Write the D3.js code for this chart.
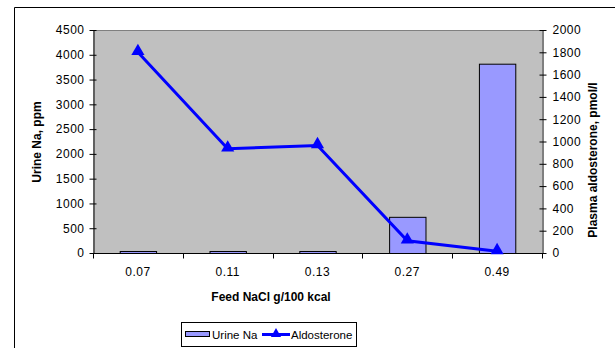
<!DOCTYPE html>
<html>
<head>
<meta charset="utf-8">
<script src="https://cdn.jsdelivr.net/npm/d3@7"></script>
<style>
  body { margin: 0; background: #fff; }
  svg { display: block; font-family: "Liberation Sans", Arial, sans-serif; }
</style>
</head>
<body>
<svg id="chart" width="615" height="348"></svg>
<script>
// Feed salt levels and the two measured responses
const categories = ["0.07", "0.11", "0.13", "0.27", "0.49"];
const urineNa = [40, 40, 40, 730, 3820];          // ppm, left axis
const aldosterone = [1800, 935, 965, 110, 15];     // pmol/l, right axis
const leftTicks = [0, 500, 1000, 1500, 2000, 2500, 3000, 3500, 4000, 4500];
const rightTicks = [0, 200, 400, 600, 800, 1000, 1200, 1400, 1600, 1800, 2000];

const svg = d3.select("#chart");
const plot = { left: 93, right: 542, top: 30, bottom: 253 };

// Outer chart frame
svg.append("path")
  .attr("d", "M14.5,348 V7.5 H615")
  .attr("fill", "none").attr("stroke", "#000").attr("stroke-width", 1);

const x = d3.scaleBand().domain(categories).range([plot.left, plot.right]).paddingInner(0).paddingOuter(0);
const yL = d3.scaleLinear().domain([0, 4500]).range([plot.bottom, plot.top]);
const yR = d3.scaleLinear().domain([0, 2000]).range([plot.bottom, plot.top]);

// Plot background
svg.append("rect")
  .attr("x", plot.left).attr("y", plot.top)
  .attr("width", plot.right - plot.left).attr("height", plot.bottom - plot.top)
  .attr("fill", "#C0C0C0");
svg.append("line")
  .attr("x1", plot.left).attr("x2", plot.right)
  .attr("y1", plot.top + 0.5).attr("y2", plot.top + 0.5)
  .attr("stroke", "#808080");

// Bars
const barW = x.bandwidth() * 0.405;
svg.append("g").selectAll("rect").data(urineNa).join("rect")
  .attr("x", (d, i) => x(categories[i]) + (x.bandwidth() - barW) / 2 + 0.5)
  .attr("y", d => yL(d) + 0.5)
  .attr("width", barW)
  .attr("height", d => plot.bottom - yL(d))
  .attr("fill", "#9999FF")
  .attr("stroke", "#000").attr("stroke-width", 1);

// Axes
const tickFont = g => g.selectAll("text").attr("font-size", 12).attr("fill", "#000")
  .attr("letter-spacing", 0.5)
  .attr("font-family", "'Liberation Sans', Arial, sans-serif");

const axL = svg.append("g").attr("transform", `translate(${plot.left + 0.5},0)`)
  .call(d3.axisLeft(yL).tickValues(leftTicks).tickFormat(d3.format("d")).tickSize(5).tickSizeOuter(0).tickPadding(4));
axL.call(tickFont);
axL.selectAll("line").attr("transform", "translate(3,0)").attr("x2", -7);

const axR = svg.append("g").attr("transform", `translate(${plot.right + 0.5},0)`)
  .call(d3.axisRight(yR).tickValues(rightTicks).tickFormat(d3.format("d")).tickSize(5).tickSizeOuter(0).tickPadding(5));
axR.call(tickFont);
axR.selectAll("line").attr("transform", "translate(-3,0)").attr("x2", 7);

// Category axis with ticks at band edges
const axB = svg.append("g").attr("transform", `translate(0,${plot.bottom + 0.5})`);
axB.append("line").attr("x1", plot.left).attr("x2", plot.right).attr("stroke", "#000");
const edges = categories.map(c => x(c)).concat([plot.right]);
axB.selectAll("line.tk").data(edges).join("line").attr("class", "tk")
  .attr("x1", d => Math.round(d) + 0.5).attr("x2", d => Math.round(d) + 0.5)
  .attr("y1", 0).attr("y2", 5).attr("stroke", "#000");
axB.selectAll("text").data(categories).join("text")
  .attr("x", d => x(d) + x.bandwidth() / 2)
  .attr("y", 22)
  .attr("text-anchor", "middle")
  .attr("font-size", 12)
  .attr("letter-spacing", 0.5)
  .text(d => d);
svg.selectAll(".domain").attr("stroke", "#000");

// Aldosterone line
const cx = c => x(c) + x.bandwidth() / 2;
svg.append("path")
  .datum(aldosterone)
  .attr("d", d3.line().x((d, i) => cx(categories[i])).y(d => yR(d)))
  .attr("fill", "none").attr("stroke", "#0000FF").attr("stroke-width", 3);
const tri = d3.symbol().type(d3.symbolTriangle).size(75);
svg.append("g").selectAll("path").data(aldosterone).join("path")
  .attr("transform", (d, i) => `translate(${cx(categories[i])},${yR(d) - 1})`)
  .attr("d", tri)
  .attr("fill", "#0000FF");

// Axis titles
svg.append("text")
  .attr("transform", `translate(41,142) rotate(-90)`)
  .attr("text-anchor", "middle").attr("font-size", 12).attr("font-weight", "bold")
  .text("Urine Na, ppm");
svg.append("text")
  .attr("transform", `translate(597,160) rotate(-90)`)
  .attr("text-anchor", "middle").attr("font-size", 12).attr("font-weight", "bold")
  .text("Plasma aldosterone, pmol/l");
svg.append("text")
  .attr("x", 271).attr("y", 301)
  .attr("text-anchor", "middle").attr("font-size", 12).attr("font-weight", "bold")
  .text("Feed NaCl g/100 kcal");

// Legend
const lg = svg.append("g");
lg.append("rect").attr("x", 181.5).attr("y", 322.5).attr("width", 175).attr("height", 24)
  .attr("fill", "#fff").attr("stroke", "#000");
lg.append("rect").attr("x", 185.5).attr("y", 331.5).attr("width", 24).attr("height", 5)
  .attr("fill", "#9999FF").attr("stroke", "#000");
lg.append("text").attr("x", 212).attr("y", 339).attr("font-size", 11.5).text("Urine Na");
lg.append("line").attr("x1", 262).attr("x2", 290).attr("y1", 334.5).attr("y2", 334.5)
  .attr("stroke", "#0000FF").attr("stroke-width", 3);
lg.append("path").attr("transform", "translate(276,334)").attr("d", d3.symbol().type(d3.symbolTriangle).size(45))
  .attr("fill", "#0000FF");
lg.append("text").attr("x", 291).attr("y", 339).attr("font-size", 11.5).text("Aldosterone");
</script>
</body>
</html>
